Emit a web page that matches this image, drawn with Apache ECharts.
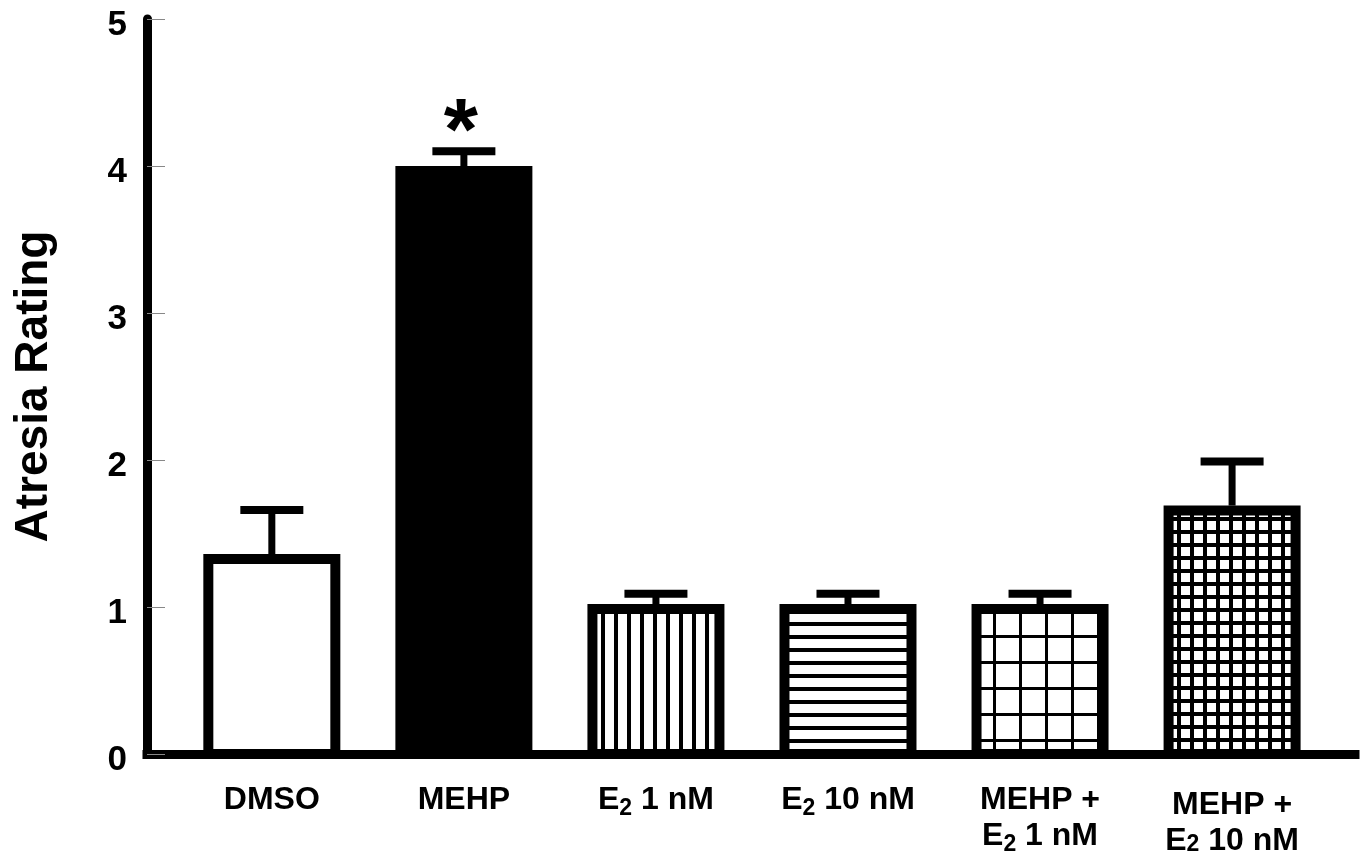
<!DOCTYPE html>
<html><head><meta charset="utf-8">
<script src="https://cdn.jsdelivr.net/npm/echarts@6/dist/echarts.min.js"></script>
<style>html,body{margin:0;padding:0;background:#fff}#c{width:1363px;height:863px}</style>
</head><body><div id="c"></div>
<script>
// ---- data ----
const categories = ['DMSO', 'MEHP', 'E2 1 nM', 'E2 10 nM', 'MEHP + E2 1 nM', 'MEHP + E2 10 nM'];
const tickLabels = [
  '{m|DMSO}',
  '{m|MEHP}',
  '{m|E}{sub|2}{m| 1 nM}',
  '{m|E}{sub|2}{m| 10 nM}',
  '{m|MEHP +}\n{m|E}{sub|2}{m| 1 nM}',
  '{m6|MEHP +}\n{m6|E}{sub6|2}{m6| 10 nM}'
];
const meanValues = [1.36, 4.0, 1.02, 1.02, 1.02, 1.69];
const errorTops = [1.66, 4.1, 1.09, 1.09, 1.09, 1.99];
const significance = ['', '*', '', '', '', ''];
const yTicks = [0, 1, 2, 3, 4, 5];
const yTitle = 'Atresia Rating';

// ---- layout helpers (positions on the numeric x scale) ----
const OFFSET = 0.65;
const X_MAX = 6.29;
const pos = i => i + OFFSET;
const BAR_W = 137, BORDER = 10;

const FONT = '"Liberation Sans", Arial, sans-serif';

function tile(w, h, draw) {
  const c = document.createElement('canvas');
  c.width = w; c.height = h;
  const g = c.getContext('2d');
  g.fillStyle = '#fff'; g.fillRect(0, 0, w, h);
  g.fillStyle = '#000';
  draw(g);
  return { image: c, repeat: 'repeat' };
}
const fills = [
  '#ffffff',
  '#000000',
  tile(13, 13, g => { g.fillRect(3, 0, 4, 13); }),
  tile(13, 13, g => { g.fillRect(0, 11, 13, 2); g.fillRect(0, 0, 13, 2); }),
  tile(26, 26, g => { g.fillRect(5, 0, 3, 26); g.fillRect(0, 11, 26, 3); }),
  tile(13, 13, g => { g.fillRect(7, 0, 4, 13); g.fillRect(0, 10, 13, 3); g.fillRect(0, 0, 13, 1); })
];

const barData = meanValues.map((v, i) => [pos(i), v]);
const errData = meanValues.map((v, i) => [pos(i), v, errorTops[i]]);

const chart = echarts.init(document.getElementById('c'), null, { renderer: 'canvas' });
const labelBase = { fontFamily: FONT, fontWeight: 'bold', fontSize: 32, lineHeight: 36, color: '#000', verticalAlign: 'top' };
const subBase = Object.assign({}, labelBase, { fontSize: 23, lineHeight: 23, verticalAlign: 'bottom' });
chart.setOption({
  animation: false,
  backgroundColor: '#fff',
  grid: { left: 147, right: 8, top: 19, bottom: 109 },
  xAxis: {
    type: 'value', min: 0, max: X_MAX,
    splitLine: { show: false },
    axisLine: { show: true, lineStyle: { color: '#000', width: 9, cap: 'square' } },
    axisTick: { show: false },
    axisLabel: {
      customValues: categories.map((c, i) => pos(i)),
      margin: 30,
      formatter: val => tickLabels[Math.round(val - OFFSET)],
      rich: {
        m: labelBase,
        sub: Object.assign({}, subBase, { padding: [20, 0, 0, 0] }),
        m6: Object.assign({}, labelBase, { padding: [5, 0, 0, 0] }),
        sub6: Object.assign({}, subBase, { padding: [25, 0, 0, 0] })
      }
    }
  },
  yAxis: {
    type: 'value', min: yTicks[0], max: yTicks[yTicks.length - 1], interval: 1,
    name: yTitle, nameLocation: 'middle', nameGap: 90,
    nameTextStyle: { fontFamily: FONT, fontWeight: 'bold', fontSize: 46, color: '#000' },
    splitLine: { show: false },
    axisLine: { show: true, lineStyle: { color: '#000', width: 9 } },
    axisTick: { show: true, inside: true, length: 18, lineStyle: { color: '#888', width: 1 } },
    axisLabel: { fontFamily: FONT, fontWeight: 'bold', fontSize: 35, color: '#000', margin: 20, verticalAlign: 'top', lineHeight: 12 }
  },
  series: [
    {
      type: 'custom', name: 'Atresia Rating', data: barData, z: 2,
      renderItem: (params, api) => {
        const x = api.value(0), v = api.value(1);
        const top = api.coord([x, v]), base = api.coord([x, 0]);
        return {
          type: 'rect',
          shape: { x: top[0] - BAR_W / 2 + BORDER / 2, y: top[1] + BORDER / 2, width: BAR_W - BORDER, height: base[1] - top[1] - BORDER / 2 },
          style: { fill: fills[params.dataIndex], stroke: '#000', lineWidth: BORDER }
        };
      }
    },
    {
      type: 'custom', data: errData, z: 3,
      renderItem: (params, api) => {
        const x = api.value(0), v = api.value(1), t = api.value(2);
        const p0 = api.coord([x, v]), p1 = api.coord([x, t]);
        const children = [
          { type: 'rect', shape: { x: p0[0] - 3.5, y: p1[1], width: 7, height: p0[1] - p1[1] }, style: { fill: '#000' } },
          { type: 'rect', shape: { x: p0[0] - 31.5, y: p1[1] - 4, width: 63, height: 8 }, style: { fill: '#000' } }
        ];
        const s = significance[params.dataIndex];
        if (s) children.push({ type: 'text', style: { text: s, x: p0[0] - 3, y: p1[1] - 17, align: 'center', verticalAlign: 'middle', font: 'bold 88px ' + FONT, fill: '#000' } });
        return { type: 'group', children };
      }
    }
  ]
});
</script></body></html>
